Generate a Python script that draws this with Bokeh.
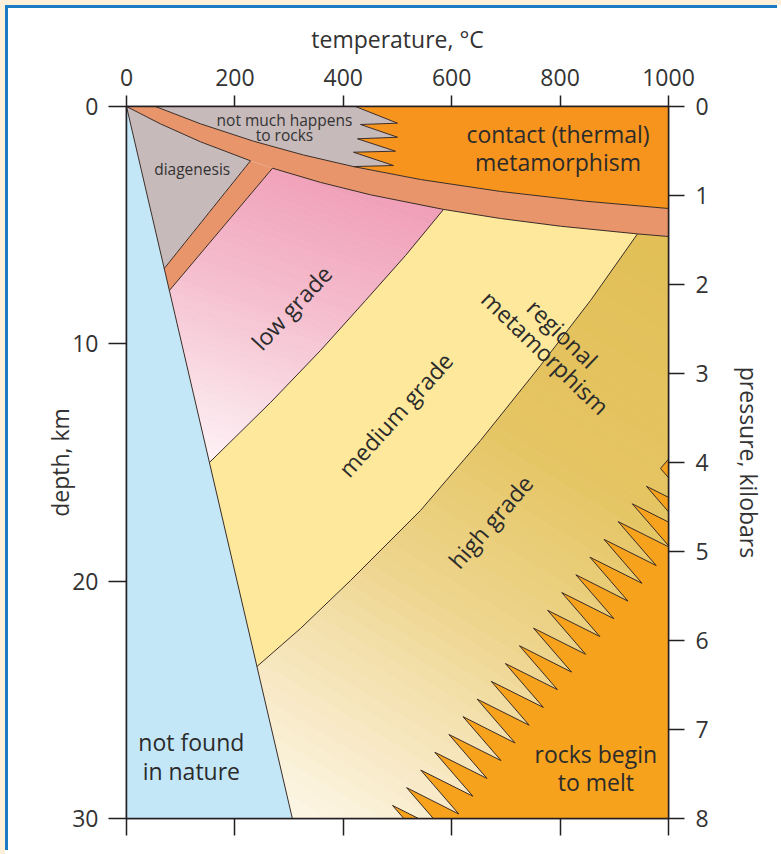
from bokeh.plotting import figure
from bokeh.models import Range1d, LinearAxis, FixedTicker, GlobalInlineStyleSheet
from bokeh.core.properties import value
from bokeh.embed import file_html
from bokeh.resources import INLINE

# ---------------- axes ----------------
temp_ticks = [0, 200, 400, 600, 800, 1000]
depth_ticks = [0, 10, 20, 30]
pressure_ticks = [0, 1, 2, 3, 4, 5, 6, 7, 8]

# ---------------- boundaries (temperature degC, depth km) ----------------
nature_T = [0, 306]
nature_depth = [0, 30]

band_top_T = [53.5, 136.5, 234.3, 326.6, 418.8, 542.4, 690.0, 845.0, 1000]
band_top_depth = [0, 0.729, 1.462, 2.044, 2.532, 3.076, 3.580, 3.985, 4.298]

band_base_T = [0, 62.7, 136.5, 228.8, 269.4, 357.9, 450.2, 584.9, 690.0, 800.7, 942.8, 1000]
band_base_depth = [0, 0.733, 1.487, 2.288, 2.600, 3.198, 3.721, 4.336, 4.719, 5.044, 5.368, 5.478]

branch_foot_T = [69.6, 79.1]        # diagenesis foot, low-grade foot
branch_foot_depth = [6.826, 7.753]

contact_zig_T = [422.5, 500.0, 431.7, 500.0, 426.2, 496.3, 418.8, 492.6, 418.8]
contact_zig_depth = [0, 0.704, 0.758, 1.294, 1.361, 1.883, 1.926, 2.486, 2.532]

low_med_T = [584.9, 514.8, 441.0, 357.9, 265.7, 153.0]
low_med_depth = [4.336, 6.278, 8.174, 10.281, 12.472, 15.0]

med_high_T = [942.8, 856.1, 763.8, 653.1, 542.4, 413.3, 321.0, 240.7]
med_high_depth = [5.368, 8.174, 10.913, 14.073, 17.023, 19.972, 21.995, 23.596]

# melting front: start, then alternating tooth tip / tooth root
melt_T = [1010, 985.2, 1055.3, 959.2, 1029.3, 933.2, 1003.3, 907.1, 977.2, 881.1, 951.2,
          855.1, 925.2, 829.1, 899.2, 803.1, 873.2, 777.0, 847.1, 751.0, 821.1, 725.0,
          795.1, 699.0, 769.1, 672.9, 743.0, 646.9, 717.0, 620.9, 691.0, 594.9, 665.0,
          568.9, 639.0, 542.9, 613.0, 516.8, 586.9, 490.8, 560.9]
melt_depth = [14.6, 15.25, 17.10, 16.00, 17.85, 16.74, 18.59, 17.49, 19.34, 18.24, 20.09,
              18.99, 20.84, 19.73, 21.58, 20.48, 22.33, 21.23, 23.08, 21.98, 23.83, 22.72,
              24.57, 23.47, 25.32, 24.22, 26.07, 24.97, 26.82, 25.71, 27.56, 26.46, 28.31,
              27.21, 29.06, 27.96, 29.81, 28.70, 30.55, 29.45, 31.30]

# ---------------- labels ----------------
small_labels = ["not much happens", "to rocks", "diagenesis"]
small_T = [291.5, 291.5, 121.2]
small_depth = [0.56, 1.18, 2.63]

flat_labels = ["contact (thermal)", "metamorphism", "not found", "in nature", "rocks begin", "to melt"]
flat_T = [796.1, 796.1, 119.6, 119.6, 865.9, 865.9]
flat_depth = [1.15, 2.347, 26.79, 27.98, 27.27, 28.47]

rot_labels = ["low grade", "medium grade", "high grade", "regional", "metamorphism"]
rot_T = [304.4, 496.3, 671.6, 804.4, 773.1]
rot_depth = [8.47, 12.98, 17.49, 9.565, 10.365]
rot_angle = [47, 48, 49, -44, -44]

# ---------------- colours ----------------
C_NATURE = "#c4e7f8"
C_GREY = "#c7babb"
C_BAND = "#e8956b"
C_CONTACT = "#f7941e"
C_MEDIUM = "#fde89b"
C_MELT = "#f6a21d"
C_LINE = "#3a2c25"
pink_t = [0.0, 0.45, 1.0]
pink_c = ["#f09fb8", "#f5bfcf", "#fdf2f5"]
high_t = [0.0, 0.35, 0.6, 0.8, 1.0]
high_c = ["#e2bf57", "#e5c563", "#edd48b", "#f6e5ba", "#fdf6e6"]

SX = 542 / 1000.0   # px per degC (for gradient direction only)
SY = 712 / 30.0     # px per km


def pts(T, D):
    return list(zip(T, D))


def clip(poly, f):
    out = []
    n = len(poly)
    for i in range(n):
        P, Q = poly[i], poly[(i + 1) % n]
        fp, fq = f(P), f(Q)
        if fp <= 0:
            out.append(P)
        if (fp < 0 < fq) or (fq < 0 < fp):
            t = fp / (fp - fq)
            out.append((P[0] + t * (Q[0] - P[0]), P[1] + t * (Q[1] - P[1])))
    return out


def hex2rgb(h):
    return tuple(int(h[i:i + 2], 16) for i in (1, 3, 5))


def color_at(t, ts, cs):
    t = min(max(t, ts[0]), ts[-1])
    for i in range(len(ts) - 1):
        if ts[i] <= t <= ts[i + 1]:
            a = (t - ts[i]) / (ts[i + 1] - ts[i])
            c0, c1 = hex2rgb(cs[i]), hex2rgb(cs[i + 1])
            r = [round(c0[k] + a * (c1[k] - c0[k])) for k in range(3)]
            return "#%02x%02x%02x" % tuple(r)
    return cs[-1]


def gradient_strips(poly, x0, y0, ux, uy, L, ts, cs, n=48):
    def g(P):
        return ((P[0] * SX - x0) * ux + (P[1] * SY - y0) * uy) / L
    xs, ys, cols = [], [], []
    for k in range(n):
        lo, hi = k / n, (k + 1) / n
        sub = poly
        if k < n - 1:
            sub = clip(sub, lambda P, hi=hi: g(P) - hi)
        if k > 0 and sub:
            sub = clip(sub, lambda P, lo=lo: lo - g(P))
        if len(sub) >= 3:
            xs.append([p[0] for p in sub])
            ys.append([p[1] for p in sub])
            cols.append(color_at((lo + hi) / 2, ts, cs))
    return xs, ys, cols


band_top = pts(band_top_T, band_top_depth)
band_base = pts(band_base_T, band_base_depth)
feet = pts(branch_foot_T, branch_foot_depth)
czig = pts(contact_zig_T, contact_zig_depth)
low_med = pts(low_med_T, low_med_depth)
med_high = pts(med_high_T, med_high_depth)
melt = pts(melt_T, melt_depth)

I_DIAG, I_LOW, I_MED, I_HIGH = 3, 4, 7, 10   # junction indices on the band base

poly_nature = [(nature_T[0], nature_depth[0]), (nature_T[1], nature_depth[1]), (0, 30)]
poly_diag = band_base[0:I_DIAG + 1] + [feet[0]]
poly_grey = [band_top[0]] + czig + band_top[3:0:-1]
poly_contact = [(1000, 0), (1000, band_top[-1][1])] + band_top[7:3:-1] + czig[-2::-1]
poly_band = [(0, 0)] + band_top + band_base[::-1]
poly_branch = [band_base[I_DIAG], band_base[I_LOW], feet[1], feet[0]]
poly_pink = band_base[I_LOW:I_MED + 1] + low_med[1:] + [feet[1]]
poly_medium = band_base[I_MED:I_HIGH + 1] + med_high[1:] + low_med[::-1]
poly_high = band_base[I_HIGH:] + [(1000, 30), (306, 30)] + med_high[::-1]
poly_melt = melt + [(1100, 31.5), (1100, 14.6)]

p = figure(width=772, height=845, x_range=Range1d(0, 1000), y_range=Range1d(30, 0),
           output_backend="svg", toolbar_location=None, x_axis_location="above",
           min_border_left=118, min_border_right=112, min_border_top=98, min_border_bottom=35)
p.extra_y_ranges = {"pressure": Range1d(8, 0)}
p.grid.visible = False
p.background_fill_color = "white"
p.border_fill_color = "white"
p.outline_line_color = "#231f20"
p.outline_line_width = 1.5


def xy(poly):
    return [q[0] for q in poly], [q[1] for q in poly]


# high grade gradient
xs, ys, cols = gradient_strips(poly_high, 524, 134, -0.518, 0.855, 676, high_t, high_c)
p.patches(xs, ys, fill_color=cols, line_color=cols, line_width=0.7)
# melt
x, y = xy(poly_melt)
p.patch(x, y, fill_color=C_MELT, line_color=None)
# medium
x, y = xy(poly_medium)
p.patch(x, y, fill_color=C_MEDIUM, line_color=None)
# pink gradient
xs, ys, cols = gradient_strips(poly_pink, 231, 79, -0.33, 0.944, 310, pink_t, pink_c)
p.patches(xs, ys, fill_color=cols, line_color=cols, line_width=0.7)
# band
for poly in (poly_band, poly_branch):
    x, y = xy(poly)
    p.patch(x, y, fill_color=C_BAND, line_color=None)
for poly, c in ((poly_diag, C_GREY), (poly_grey, C_GREY), (poly_contact, C_CONTACT), (poly_nature, C_NATURE)):
    x, y = xy(poly)
    p.patch(x, y, fill_color=c, line_color=None)

lines = [
    [(nature_T[0], nature_depth[0]), (nature_T[1], nature_depth[1])],
    band_top,
    band_base[0:I_DIAG + 1],
    band_base[I_LOW:],
    [band_base[I_DIAG], feet[0]],
    [band_base[I_LOW], feet[1]],
    czig,
    low_med,
    med_high,
    melt,
]
p.multi_line([[q[0] for q in l] for l in lines], [[q[1] for q in l] for l in lines],
             line_color=C_LINE, line_width=1)

FONT = value("Open Sans")
p.text(small_T, small_depth, text=small_labels, text_font=FONT, text_font_size="15.5px",
       text_align="center", text_baseline="middle", text_color="#333333")
p.text(flat_T, flat_depth, text=flat_labels, text_font=FONT, text_font_size="23px",
       text_align="center", text_baseline="middle", text_color="#2b2b2b")
p.text(rot_T, rot_depth, text=rot_labels, angle=rot_angle, angle_units="deg", text_font=FONT,
       text_font_size="23px", text_align="center", text_baseline="middle", text_color="#2b2b2b")

# ---------------- axes ----------------
top = p.xaxis[0]
left = p.yaxis[0]
right = LinearAxis(y_range_name="pressure")
bottom = LinearAxis()
p.add_layout(right, "right")
p.add_layout(bottom, "below")

for ax in (top, left, right, bottom):
    ax.axis_line_color = "#231f20"
    ax.axis_line_width = 1.5
    ax.major_tick_line_color = "#231f20"
    ax.major_tick_line_width = 1.5
    ax.minor_tick_line_color = None
    ax.major_tick_in = 0
    ax.major_label_text_font = "Open Sans"
    ax.major_label_text_font_size = "23px"
    ax.major_label_text_color = "#333333"
    ax.axis_label_text_font = "Open Sans"
    ax.axis_label_text_font_size = "23px"
    ax.axis_label_text_font_style = "normal"
    ax.axis_label_text_color = "#333333"

top.ticker = FixedTicker(ticks=temp_ticks)
top.major_tick_out = 11
top.major_label_standoff = 10
top.axis_label = "temperature, °C"
top.axis_label_standoff = 11

left.ticker = FixedTicker(ticks=depth_ticks)
left.major_tick_out = 18
left.major_label_standoff = 10
left.axis_label = "depth, km"
left.axis_label_standoff = -7

right.ticker = FixedTicker(ticks=pressure_ticks)
right.major_tick_out = 16
right.major_label_standoff = 11
right.axis_label = "pressure, kilobars"
right.axis_label_standoff = 21

bottom.ticker = FixedTicker(ticks=temp_ticks)
bottom.major_tick_out = 17
bottom.major_label_standoff = 0
bottom.major_label_text_font_size = "1px"
bottom.major_label_text_color = None

# page frame: cream strip and blue rule along the top and left edges
p.styles = {"margin-left": "5px", "margin-top": "5px",
            "border-left": "3px solid #1a7bc5", "border-top": "3px solid #1a7bc5"}
p.stylesheets = [GlobalInlineStyleSheet(css=(
    "body{background: linear-gradient(#fdf0da,#fdf0da) left top / 5px 100% no-repeat,"
    " linear-gradient(#fdf0da,#fdf0da) left top / 100% 5px no-repeat, #ffffff;}"))]

open("out.html", "w").write(file_html(p, INLINE))
